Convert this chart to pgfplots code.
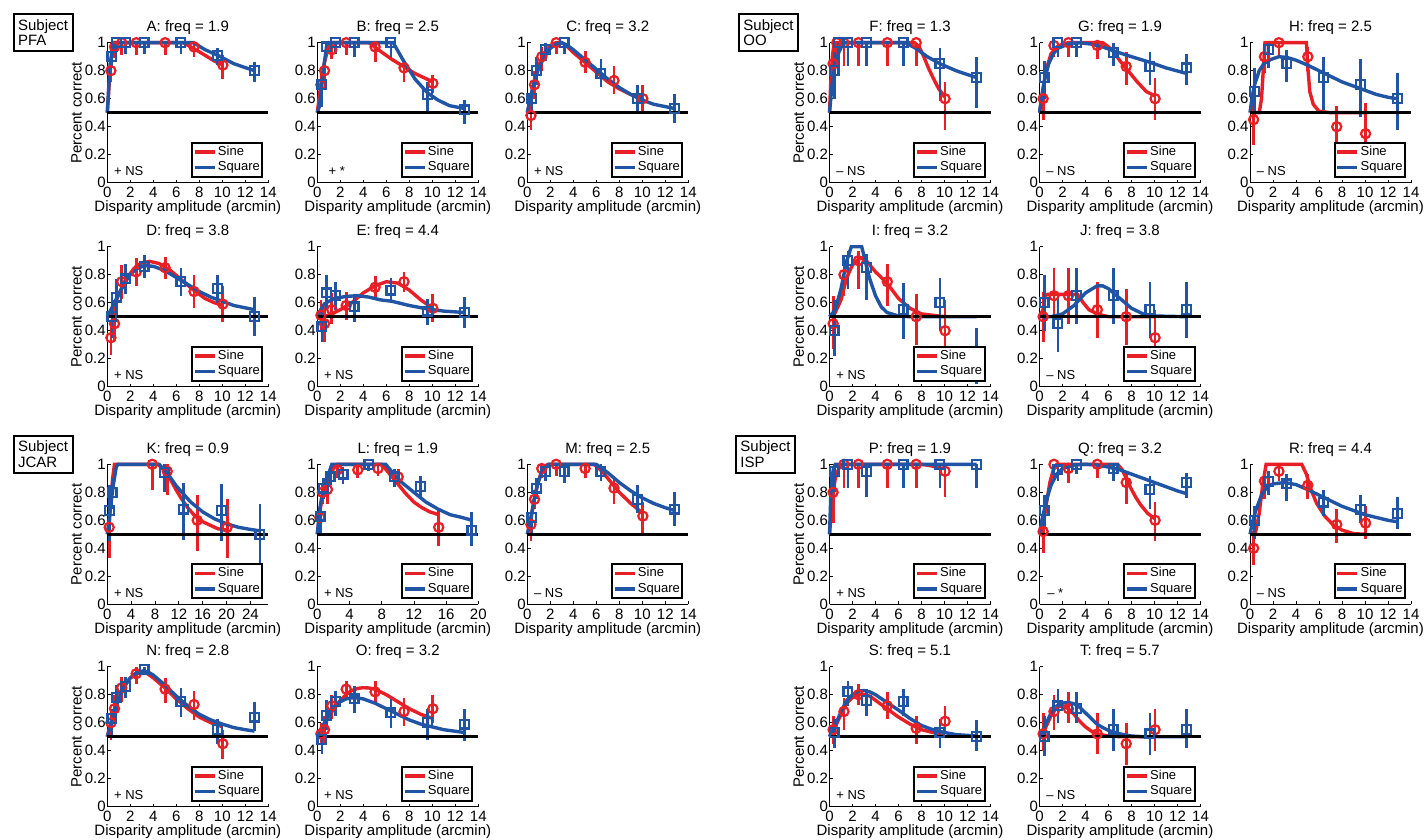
\documentclass[border=0pt]{standalone}
\usepackage{fontspec}
\setmainfont{Liberation Sans}
\usepackage{pgfplots}
\pgfplotsset{compat=1.18}

\definecolor{sinered}{RGB}{232,32,38}
\definecolor{sqblue}{RGB}{32,84,164}

\pgfplotsset{
  panel/.style={
    scale only axis, width=80.5pt, height=70pt, anchor=south west,
    xmin=0, xmax=14, ymin=0, ymax=1, clip=false,
    axis x line*=bottom, axis y line*=left,
    axis line style={-, line width=0.5pt},
    xtick={0,2,...,14}, ytick={0,0.2,0.4,0.6,0.8,1},
    tick align=inside, major tick length=1.6pt,
    tick style={black, line width=0.4pt},
    /pgf/number format/assume math mode=true,
    font=\fontsize{7.5}{9}\selectfont,
    xticklabel style={anchor=base, yshift=-7.4pt},
    yticklabel style={anchor=east, inner sep=0.6pt},
    xlabel={Disparity amplitude (arcmin)},
    xlabel style={at={(axis description cs:0.5,0)}, anchor=base, yshift=-14.6pt},
    ylabel style={at={(axis description cs:0,0.5)}, anchor=base, rotate=0, yshift=12.8pt},
    title style={at={(0.5,1)}, anchor=base, yshift=-0.5pt},
    legend entries={Sine,Square},
    legend image code/.code={\draw[##1] (0pt,0pt) -- (10pt,0pt);},
    legend cell align=left,
    legend style={at={(1,0)}, anchor=south east, xshift=-2.5pt, yshift=2.5pt,
      draw=black, line width=1pt, fill=white,
      font=\fontsize{6.5}{7}\selectfont,
      inner xsep=0.4pt, inner ysep=1.2pt, row sep=0.8pt,
      nodes={inner xsep=0.8pt, inner ysep=0.4pt}},
  },
  fitS/.style={color=sinered, line width=1.7pt},
  fitQ/.style={color=sqblue, line width=1.7pt},
  ptsS/.style={forget plot, only marks, color=sinered, mark=o, mark size=2.3pt,
    mark options={line width=1.1pt},
    error bars/.cd, y dir=both, y explicit, error mark=none,
    error bar style={line width=1.4pt}},
  ptsQ/.style={forget plot, only marks, color=sqblue, mark=square, mark size=2.2pt,
    mark options={line width=1.1pt},
    error bars/.cd, y dir=both, y explicit, error mark=none,
    error bar style={line width=1.4pt}},
  chance/.style={forget plot, black, line width=1.5pt},
}
\newcommand{\chance}[1][14]{\addplot[chance] coordinates {(0,0.5) (#1,0.5)};}
\newcommand{\note}[2][3.2pt]{\node[anchor=west, inner sep=0pt, font=\fontsize{6.5}{7}\selectfont,
  xshift=#1, yshift=5.85pt] at (rel axis cs:0,0) {#2};}
\newcommand{\subj}[3]{\node[draw, line width=1pt, align=left, anchor=north west,
  inner xsep=2.2pt, inner ysep=2.5pt, font=\fontsize{7.5}{7.9}\selectfont] at (#1,#2) {Subject\\#3};}

\begin{document}
\begin{tikzpicture}
\useasboundingbox (0,0) rectangle (712pt,-420pt);

\subj{6.35pt}{-6.65pt}{PFA}
\subj{369pt}{-6.65pt}{OO}
\subj{6.35pt}{-217.5pt}{JCAR}
\subj{367.5pt}{-217.5pt}{ISP}

% ---------------- Subject PFA ----------------
\begin{axis}[panel, at={(53.65pt,-91.35pt)}, title={A: freq = 1.9}, ylabel={Percent correct}]
\addplot[fitS] coordinates {(0,0.5)(0.1,0.62)(0.2,0.75)(0.3,0.85)(0.45,0.95)(0.6,1)(6.6,1)(7.5,0.96)(8.5,0.91)(9.3,0.87)(10.05,0.84)};
\addplot[ptsS] coordinates {(0.314,0.80) += (0,0.07) -= (0,0.08) (0.628,0.97) += (0,0.03) -= (0,0.08) (1.257,1) += (0,0) -= (0,0.09) (2.513,1) += (0,0) -= (0,0.09) (5.027,1) += (0,0) -= (0,0.09) (7.54,0.97) += (0,0.03) -= (0,0.07) (10.05,0.84) += (0,0.07) -= (0,0.1)};
\addplot[fitQ] coordinates {(0,0.5)(0.1,0.65)(0.25,0.85)(0.4,0.93)(0.6,1)(7.5,1)(8.5,0.95)(9.6,0.91)(11,0.85)(12.8,0.8)};
\addplot[ptsQ] coordinates {(0.4,0.9) += (0,0.07) -= (0,0.08) (0.8,1) += (0,0) -= (0,0.07) (1.6,1) += (0,0) -= (0,0.08) (3.2,1) += (0,0) -= (0,0.08) (6.4,1) += (0,0) -= (0,0.08) (9.6,0.91) += (0,0.05) -= (0,0.07) (12.8,0.8) += (0,0.06) -= (0,0.08)};
\chance
\note{+ NS}
\end{axis}

\begin{axis}[panel, at={(158.65pt,-91.35pt)}, title={B: freq = 2.5}]
\addplot[fitS] coordinates {(0,0.5)(0.3,0.7)(0.6,0.85)(0.9,0.95)(1.3,1)(4.5,1)(5.3,0.95)(6.5,0.88)(7.5,0.83)(8.5,0.78)(10.05,0.72)};
\addplot[ptsS] coordinates {(0.314,0.70) += (0,0.1) -= (0,0.1) (0.628,0.80) += (0,0.07) -= (0,0.08) (1.257,0.95) += (0,0.05) -= (0,0.07) (2.513,1) += (0,0) -= (0,0.09) (5.027,0.97) += (0,0.03) -= (0,0.11) (7.54,0.82) += (0,0.05) -= (0,0.1) (10.05,0.71) += (0,0.06) -= (0,0.07)};
\addplot[fitQ] coordinates {(0,0.5)(0.2,0.55)(0.4,0.7)(0.6,0.85)(0.8,0.97)(1,1)(6.6,1)(7.5,0.87)(8.5,0.74)(9.6,0.64)(10.5,0.59)(11.5,0.55)(12.8,0.53)};
\addplot[ptsQ] coordinates {(0.4,0.70) += (0,0.09) -= (0,0.16) (0.8,0.97) += (0,0.03) -= (0,0.05) (1.6,1) += (0,0) -= (0,0.08) (3.2,1) += (0,0) -= (0,0.1) (6.4,1) += (0,0) -= (0,0.1) (9.6,0.63) += (0,0.09) -= (0,0.13) (12.8,0.52) += (0,0.07) -= (0,0.1)};
\chance
\note[5.5pt]{+ *}
\end{axis}

\begin{axis}[panel, at={(263.65pt,-91.35pt)}, title={C: freq = 3.2}]
\addplot[fitS] coordinates {(0,0.5)(0.3,0.6)(0.6,0.72)(1,0.84)(1.5,0.93)(2,0.98)(2.5,1)(3,1)(3.5,0.97)(4,0.93)(5,0.86)(6,0.79)(7,0.72)(8,0.67)(9,0.63)(10.05,0.6)};
\addplot[ptsS] coordinates {(0.314,0.48) += (0,0.1) -= (0,0.1) (0.628,0.7) += (0,0.1) -= (0,0.1) (1.257,0.9) += (0,0.07) -= (0,0.1) (2.513,1) += (0,0) -= (0,0.08) (5.027,0.86) += (0,0.08) -= (0,0.08) (7.54,0.73) += (0,0.1) -= (0,0.1) (10.05,0.6) += (0,0.1) -= (0,0.1)};
\addplot[fitQ] coordinates {(0,0.5)(0.3,0.62)(0.6,0.72)(1,0.82)(1.5,0.9)(2,0.96)(2.5,0.99)(3,1)(3.5,0.98)(4,0.95)(5,0.88)(6,0.81)(7,0.74)(8,0.68)(9,0.63)(10,0.59)(11,0.56)(12.8,0.53)};
\addplot[ptsQ] coordinates {(0.4,0.6) += (0,0.1) -= (0,0.1) (0.8,0.8) += (0,0.1) -= (0,0.1) (1.6,0.95) += (0,0.05) -= (0,0.08) (3.2,1) += (0,0) -= (0,0.08) (6.4,0.78) += (0,0.1) -= (0,0.1) (9.6,0.6) += (0,0.1) -= (0,0.1) (12.8,0.53) += (0,0.1) -= (0,0.1)};
\chance
\note{+ NS}
\end{axis}

\begin{axis}[panel, at={(53.65pt,-193.35pt)}, title={D: freq = 3.8}, ylabel={Percent correct}]
\addplot[fitS] coordinates {(0,0.5)(0.5,0.56)(1,0.66)(1.5,0.75)(2,0.81)(2.5,0.86)(3,0.885)(3.7,0.895)(4.5,0.88)(5.5,0.83)(6.5,0.76)(7.5,0.69)(8.5,0.63)(9.3,0.6)(10.05,0.58)};
\addplot[ptsS] coordinates {(0.314,0.35) += (0,0.12) -= (0,0.12) (0.628,0.45) += (0,0.12) -= (0,0.12) (1.257,0.75) += (0,0.12) -= (0,0.12) (2.513,0.82) += (0,0.1) -= (0,0.1) (5.027,0.85) += (0,0.08) -= (0,0.08) (7.54,0.68) += (0,0.12) -= (0,0.12) (10.05,0.59) += (0,0.13) -= (0,0.13)};
\addplot[fitQ] coordinates {(0,0.5)(0.5,0.58)(1,0.66)(1.5,0.74)(2,0.8)(2.5,0.84)(3.2,0.865)(4,0.86)(5,0.83)(6,0.78)(7,0.73)(8,0.68)(9,0.64)(10,0.61)(11,0.58)(12.8,0.55)};
\addplot[ptsQ] coordinates {(0.4,0.5) += (0,0.15) -= (0,0.15) (0.8,0.64) += (0,0.13) -= (0,0.13) (1.6,0.77) += (0,0.11) -= (0,0.11) (3.2,0.86) += (0,0.08) -= (0,0.08) (6.4,0.75) += (0,0.1) -= (0,0.1) (9.6,0.7) += (0,0.1) -= (0,0.1) (12.8,0.5) += (0,0.14) -= (0,0.14)};
\chance
\note{+ NS}
\end{axis}

\begin{axis}[panel, at={(158.65pt,-193.35pt)}, title={E: freq = 4.4}]
\addplot[fitS] coordinates {(0,0.5)(0.5,0.5)(1,0.51)(1.5,0.53)(2,0.55)(3,0.6)(4,0.67)(5,0.72)(6,0.75)(7,0.74)(8,0.69)(9,0.62)(10.05,0.56)};
\addplot[ptsS] coordinates {(0.314,0.51) += (0,0.11) -= (0,0.11) (0.628,0.45) += (0,0.12) -= (0,0.13) (1.257,0.55) += (0,0.12) -= (0,0.1) (2.513,0.58) += (0,0.1) -= (0,0.1) (5.027,0.71) += (0,0.08) -= (0,0.08) (7.54,0.75) += (0,0.07) -= (0,0.07) (10.05,0.56) += (0,0.1) -= (0,0.1)};
\addplot[fitQ] coordinates {(0,0.5)(0.3,0.55)(0.6,0.59)(1,0.61)(1.5,0.63)(2.5,0.645)(3.5,0.65)(4.5,0.64)(5.5,0.62)(6.5,0.61)(8,0.58)(9.6,0.555)(11,0.54)(12.8,0.53)};
\addplot[ptsQ] coordinates {(0.4,0.43) += (0,0.12) -= (0,0.11) (0.8,0.67) += (0,0.13) -= (0,0.12) (1.6,0.65) += (0,0.1) -= (0,0.1) (3.2,0.57) += (0,0.09) -= (0,0.11) (6.4,0.69) += (0,0.09) -= (0,0.09) (9.6,0.54) += (0,0.09) -= (0,0.1) (12.8,0.53) += (0,0.11) -= (0,0.11)};
\chance
\note{+ NS}
\end{axis}

% ---------------- Subject OO ----------------
\begin{axis}[panel, at={(414.75pt,-91.35pt)}, title={F: freq = 1.3}, ylabel={Percent correct}]
\addplot[fitS] coordinates {(0,0.5)(0.1,0.7)(0.25,0.9)(0.4,1)(7.4,1)(7.8,0.97)(8.2,0.9)(8.6,0.82)(9,0.75)(9.5,0.67)(10.05,0.61)};
\addplot[ptsS] coordinates {(0.314,0.85) += (0,0.1) -= (0,0.13) (0.628,1) += (0,0) -= (0,0.17) (1.257,1) += (0,0) -= (0,0.17) (2.513,1) += (0,0) -= (0,0.17) (5.027,1) += (0,0) -= (0,0.17) (7.54,1) += (0,0) -= (0,0.17) (10.05,0.6) += (0,0.12) -= (0,0.22)};
\addplot[fitQ] coordinates {(0,0.5)(0.2,0.68)(0.4,0.8)(0.8,0.93)(1.2,1)(6.6,1)(7.5,0.96)(8.5,0.9)(9.6,0.85)(11,0.8)(12.8,0.75)};
\addplot[ptsQ] coordinates {(0.4,0.8) += (0,0.13) -= (0,0.2) (0.8,1) += (0,0) -= (0,0.17) (1.6,1) += (0,0) -= (0,0.17) (3.2,1) += (0,0) -= (0,0.17) (6.4,1) += (0,0) -= (0,0.17) (9.6,0.85) += (0,0.11) -= (0,0.27) (12.8,0.75) += (0,0.15) -= (0,0.22)};
\chance
\note{\textendash{} NS}
\end{axis}

\begin{axis}[panel, at={(519.75pt,-91.35pt)}, title={G: freq = 1.9}]
\addplot[fitS] coordinates {(0,0.5)(0.2,0.6)(0.4,0.72)(0.7,0.84)(1,0.92)(1.5,0.97)(2,0.99)(2.5,1)(5.5,1)(6,0.97)(6.5,0.93)(7,0.87)(7.5,0.82)(8.5,0.72)(9.3,0.65)(10.05,0.62)};
\addplot[ptsS] coordinates {(0.314,0.6) += (0,0.1) -= (0,0.15) (1.257,0.98) += (0,0.02) -= (0,0.08) (2.513,1) += (0,0) -= (0,0.1) (5.027,0.98) += (0,0.02) -= (0,0.1) (7.54,0.83) += (0,0.1) -= (0,0.13) (10.05,0.6) += (0,0.15) -= (0,0.15)};
\addplot[fitQ] coordinates {(0,0.5)(0.2,0.62)(0.4,0.72)(0.8,0.85)(1.2,0.92)(1.6,0.96)(2.5,0.99)(3.5,1)(4.5,0.99)(5.5,0.97)(6.5,0.94)(8,0.9)(9.6,0.86)(11,0.82)(12.8,0.78)};
\addplot[ptsQ] coordinates {(0.4,0.75) += (0,0.12) -= (0,0.15) (1.6,1) += (0,0) -= (0,0.1) (3.2,1) += (0,0) -= (0,0.1) (6.4,0.93) += (0,0.07) -= (0,0.1) (9.6,0.83) += (0,0.1) -= (0,0.13) (12.8,0.82) += (0,0.1) -= (0,0.12)};
\chance
\note{\textendash{} NS}
\end{axis}

\begin{axis}[panel, at={(625pt,-91.35pt)}, title={H: freq = 2.5}]
\addplot[fitS] coordinates {(0,0.5)(0.8,0.5)(1,0.6)(1.15,0.8)(1.3,1)(4.9,1)(5.05,0.8)(5.2,0.65)(5.5,0.56)(6,0.51)(7,0.5)(10.05,0.5)};
\addplot[ptsS] coordinates {(0.314,0.45) += (0,0.17) -= (0,0.18) (1.257,0.9) += (0,0.07) -= (0,0.12) (2.513,1) += (0,0) -= (0,0.1) (5.027,0.9) += (0,0.07) -= (0,0.1) (7.54,0.4) += (0,0.15) -= (0,0.17) (10.05,0.35) += (0,0.22) -= (0,0.15)};
\addplot[fitQ] coordinates {(0,0.5)(0.2,0.62)(0.4,0.7)(0.8,0.8)(1.2,0.85)(1.8,0.88)(2.5,0.9)(3.2,0.895)(4,0.875)(5,0.84)(6,0.8)(7,0.76)(8,0.72)(9,0.69)(10,0.66)(11,0.63)(12,0.61)(12.8,0.6)};
\addplot[ptsQ] coordinates {(0.4,0.65) += (0,0.17) -= (0,0.17) (1.6,0.95) += (0,0.05) -= (0,0.13) (3.2,0.85) += (0,0.1) -= (0,0.13) (6.4,0.75) += (0,0.15) -= (0,0.23) (9.6,0.7) += (0,0.18) -= (0,0.23) (12.8,0.6) += (0,0.18) -= (0,0.22)};
\chance
\note{\textendash{} NS}
\end{axis}

\begin{axis}[panel, at={(414.75pt,-193.35pt)}, title={I: freq = 3.2}, ylabel={Percent correct}]
\addplot[fitS] coordinates {(0,0.5)(0.5,0.53)(1,0.62)(1.5,0.78)(2,0.87)(2.5,0.91)(2.8,0.92)(3.2,0.9)(3.6,0.86)(4,0.82)(5,0.74)(6,0.63)(7,0.56)(8,0.52)(9,0.51)(10.05,0.5)};
\addplot[ptsS] coordinates {(0.314,0.45) += (0,0.2) -= (0,0.18) (1.257,0.8) += (0,0.1) -= (0,0.15) (2.513,0.9) += (0,0.07) -= (0,0.2) (5.027,0.75) += (0,0.13) -= (0,0.17) (7.54,0.5) += (0,0.16) -= (0,0.2) (10.05,0.4) += (0,0.22) -= (0,0.2)};
\addplot[fitQ] coordinates {(0,0.5)(0.5,0.55)(1,0.7)(1.5,0.9)(1.9,1)(2.8,1)(3.1,0.9)(3.5,0.77)(4,0.65)(4.5,0.57)(5,0.53)(6,0.505)(7,0.5)(12.8,0.5)};
\addplot[ptsQ] coordinates {(0.4,0.4) += (0,0.22) -= (0,0.18) (1.6,0.9) += (0,0.07) -= (0,0.2) (3.2,0.85) += (0,0.1) -= (0,0.23) (6.4,0.55) += (0,0.19) -= (0,0.21) (9.6,0.6) += (0,0.18) -= (0,0.2) (12.8,0.22) += (0,0.2) -= (0,0.2)};
\chance
\note{+ NS}
\end{axis}

\begin{axis}[panel, at={(519.75pt,-193.35pt)}, title={J: freq = 3.8}]
\addplot[fitS] coordinates {(0,0.5)(0.3,0.55)(0.5,0.65)(0.7,0.66)(3.3,0.66)(3.8,0.6)(4.3,0.55)(5,0.52)(6,0.5)(10.05,0.5)};
\addplot[ptsS] coordinates {(0.314,0.5) += (0,0.18) -= (0,0.18) (1.257,0.65) += (0,0.2) -= (0,0.2) (2.513,0.65) += (0,0.2) -= (0,0.2) (5.027,0.55) += (0,0.2) -= (0,0.2) (7.54,0.5) += (0,0.2) -= (0,0.2) (10.05,0.35) += (0,0.2) -= (0,0.2)};
\addplot[fitQ] coordinates {(0,0.5)(1,0.5)(2,0.52)(3,0.58)(4,0.67)(5,0.72)(5.5,0.72)(6,0.7)(7,0.63)(8,0.56)(9,0.52)(10,0.505)(12.8,0.5)};
\addplot[ptsQ] coordinates {(0.4,0.6) += (0,0.2) -= (0,0.2) (1.6,0.45) += (0,0.2) -= (0,0.2) (3.2,0.65) += (0,0.2) -= (0,0.2) (6.4,0.65) += (0,0.2) -= (0,0.2) (9.6,0.55) += (0,0.2) -= (0,0.2) (12.8,0.55) += (0,0.2) -= (0,0.2)};
\chance
\note{\textendash{} NS}
\end{axis}

% ---------------- Subject JCAR ----------------
\begin{axis}[panel, at={(53.65pt,-302.15pt)}, title={K: freq = 0.9}, ylabel={Percent correct}, xmax=27, xtick={0,4,...,24}]
\addplot[fitS] coordinates {(0,0.5)(0.3,0.55)(0.6,0.75)(0.9,0.9)(1.2,1)(8.5,1)(9.5,0.96)(10.5,0.9)(11.5,0.82)(12.5,0.75)(13.5,0.69)(14.5,0.64)(15.5,0.6)(17,0.57)(18.5,0.54)(20.1,0.53)};
\addplot[ptsS] coordinates {(0.314,0.55) += (0,0.15) -= (0,0.22) (7.54,1) += (0,0) -= (0,0.18) (10.05,0.95) += (0,0.05) -= (0,0.17) (15.08,0.6) += (0,0.18) -= (0,0.22) (20.1,0.55) += (0,0.2) -= (0,0.22)};
\addplot[fitQ] coordinates {(0,0.5)(0.5,0.68)(1,0.85)(1.5,0.98)(1.8,1)(8.7,1)(9.5,0.96)(10.5,0.91)(11.5,0.85)(12.5,0.8)(14,0.73)(16,0.66)(18,0.61)(20,0.575)(22,0.55)(24,0.535)(25.6,0.525)};
\addplot[ptsQ] coordinates {(0.4,0.67) += (0,0.18) -= (0,0.22) (0.8,0.8) += (0,0.1) -= (0,0.12) (9.6,0.94) += (0,0.06) -= (0,0.14) (12.8,0.68) += (0,0.19) -= (0,0.22) (19.2,0.67) += (0,0.19) -= (0,0.22) (25.6,0.5) += (0,0.22) -= (0,0.22)};
\chance[27]
\note{+ NS}
\end{axis}

\begin{axis}[panel, at={(158.65pt,-302.15pt)}, title={L: freq = 1.9}, xmax=20, xtick={0,4,...,20}]
\addplot[fitS] coordinates {(0,0.5)(0.3,0.65)(0.6,0.77)(1,0.86)(1.5,0.93)(2,0.97)(2.5,1)(8,1)(9,0.93)(10,0.86)(11,0.79)(12,0.73)(13,0.69)(14,0.66)(15.08,0.64)};
\addplot[ptsS] coordinates {(0.314,0.62) += (0,0.06) -= (0,0.07) (0.628,0.8) += (0,0.07) -= (0,0.08) (1.257,0.82) += (0,0.08) -= (0,0.1) (2.513,0.96) += (0,0.04) -= (0,0.06) (5.027,0.96) += (0,0.04) -= (0,0.06) (7.54,0.97) += (0,0.03) -= (0,0.05) (10.05,0.91) += (0,0.06) -= (0,0.06) (15.08,0.55) += (0,0.13) -= (0,0.13)};
\addplot[fitQ] coordinates {(0,0.5)(0.3,0.68)(0.6,0.78)(1,0.86)(1.4,0.93)(1.8,1)(8.5,1)(9.5,0.93)(10.5,0.87)(12,0.8)(13.5,0.73)(15,0.68)(16.5,0.64)(18,0.62)(19.2,0.6)};
\addplot[ptsQ] coordinates {(0.4,0.63) += (0,0.09) -= (0,0.13) (0.8,0.83) += (0,0.07) -= (0,0.08) (1.6,0.91) += (0,0.05) -= (0,0.06) (3.2,0.93) += (0,0.05) -= (0,0.07) (6.4,1) += (0,0) -= (0,0.05) (9.6,0.91) += (0,0.06) -= (0,0.07) (12.8,0.84) += (0,0.08) -= (0,0.09) (19.2,0.53) += (0,0.13) -= (0,0.11)};
\chance[20]
\note{+ NS}
\end{axis}

\begin{axis}[panel, at={(263.65pt,-302.15pt)}, title={M: freq = 2.5}]
\addplot[fitS] coordinates {(0,0.5)(0.2,0.56)(0.4,0.65)(0.6,0.75)(0.9,0.86)(1.2,0.94)(1.6,0.99)(1.8,1)(5.8,1)(6.5,0.95)(7.2,0.88)(8,0.8)(9,0.72)(10.05,0.65)};
\addplot[ptsS] coordinates {(0.314,0.57) += (0,0.08) -= (0,0.12) (0.628,0.75) += (0,0.07) -= (0,0.07) (1.257,0.97) += (0,0.03) -= (0,0.07) (2.513,1) += (0,0) -= (0,0.08) (5.027,0.97) += (0,0.03) -= (0,0.07) (7.54,0.83) += (0,0.09) -= (0,0.11) (10.05,0.63) += (0,0.1) -= (0,0.13)};
\addplot[fitQ] coordinates {(0,0.5)(0.2,0.57)(0.4,0.66)(0.6,0.75)(0.9,0.86)(1.2,0.93)(1.6,0.98)(1.9,1)(6,1)(7,0.94)(8,0.87)(9,0.81)(10,0.76)(11,0.72)(12,0.69)(12.8,0.67)};
\addplot[ptsQ] coordinates {(0.4,0.62) += (0,0.06) -= (0,0.12) (0.8,0.83) += (0,0.07) -= (0,0.08) (1.6,0.95) += (0,0.05) -= (0,0.07) (3.2,0.95) += (0,0.05) -= (0,0.08) (6.4,0.95) += (0,0.05) -= (0,0.07) (9.6,0.75) += (0,0.1) -= (0,0.1) (12.8,0.68) += (0,0.12) -= (0,0.12)};
\chance
\note{\textendash{} NS}
\end{axis}

\begin{axis}[panel, at={(53.65pt,-403.35pt)}, title={N: freq = 2.8}, ylabel={Percent correct}]
\addplot[fitS] coordinates {(0,0.5)(0.5,0.66)(1,0.78)(1.5,0.87)(2,0.92)(2.5,0.95)(3,0.96)(3.5,0.95)(4,0.92)(5,0.85)(6,0.77)(7,0.7)(8,0.64)(9,0.6)(10.05,0.57)};
\addplot[ptsS] coordinates {(0.314,0.6) += (0,0.08) -= (0,0.12) (0.628,0.7) += (0,0.1) -= (0,0.1) (1.257,0.85) += (0,0.08) -= (0,0.1) (2.513,0.95) += (0,0.05) -= (0,0.07) (5.027,0.84) += (0,0.08) -= (0,0.1) (7.54,0.73) += (0,0.1) -= (0,0.11) (10.05,0.45) += (0,0.1) -= (0,0.11)};
\addplot[fitQ] coordinates {(0,0.5)(0.5,0.65)(1,0.77)(1.5,0.86)(2,0.92)(2.5,0.955)(3.1,0.97)(3.6,0.96)(4,0.94)(5,0.87)(6,0.79)(7,0.72)(8,0.66)(9,0.62)(10,0.59)(11,0.565)(12,0.55)(12.8,0.54)};
\addplot[ptsQ] coordinates {(0.4,0.63) += (0,0.07) -= (0,0.13) (0.8,0.78) += (0,0.09) -= (0,0.1) (1.6,0.86) += (0,0.07) -= (0,0.08) (3.2,0.98) += (0,0.02) -= (0,0.04) (6.4,0.75) += (0,0.1) -= (0,0.11) (9.6,0.55) += (0,0.08) -= (0,0.1) (12.8,0.64) += (0,0.11) -= (0,0.1)};
\chance
\note{+ NS}
\end{axis}

\begin{axis}[panel, at={(158.65pt,-403.35pt)}, title={O: freq = 3.2}]
\addplot[fitS] coordinates {(0,0.5)(0.5,0.57)(1,0.64)(1.5,0.71)(2,0.76)(2.5,0.8)(3,0.83)(3.5,0.845)(4,0.85)(4.5,0.848)(5,0.84)(6,0.8)(7,0.75)(8,0.7)(9,0.66)(10.05,0.63)};
\addplot[ptsS] coordinates {(0.314,0.52) += (0,0.08) -= (0,0.07) (0.628,0.55) += (0,0.1) -= (0,0.1) (1.257,0.72) += (0,0.08) -= (0,0.09) (2.513,0.84) += (0,0.06) -= (0,0.07) (5.027,0.82) += (0,0.08) -= (0,0.07) (7.54,0.68) += (0,0.1) -= (0,0.1) (10.05,0.7) += (0,0.1) -= (0,0.1)};
\addplot[fitQ] coordinates {(0,0.5)(0.5,0.58)(1,0.66)(1.5,0.72)(2,0.75)(2.5,0.77)(3.2,0.78)(4,0.77)(5,0.74)(6,0.7)(7,0.66)(8,0.62)(9,0.59)(10,0.57)(11,0.55)(12.8,0.53)};
\addplot[ptsQ] coordinates {(0.4,0.48) += (0,0.1) -= (0,0.1) (0.8,0.65) += (0,0.11) -= (0,0.1) (1.6,0.75) += (0,0.08) -= (0,0.1) (3.2,0.77) += (0,0.09) -= (0,0.1) (6.4,0.67) += (0,0.1) -= (0,0.11) (9.6,0.6) += (0,0.1) -= (0,0.12) (12.8,0.59) += (0,0.11) -= (0,0.12)};
\chance
\note{+ NS}
\end{axis}

% ---------------- Subject ISP ----------------
\begin{axis}[panel, at={(414.75pt,-302.15pt)}, title={P: freq = 1.9}, ylabel={Percent correct}]
\addplot[fitS] coordinates {(0,0.5)(0.15,0.65)(0.3,0.78)(0.5,0.9)(0.8,0.97)(1.2,1)(8,1)(8.8,0.99)(9.5,0.975)(10.05,0.97)};
\addplot[ptsS] coordinates {(0.314,0.8) += (0,0.1) -= (0,0.22) (1.257,1) += (0,0) -= (0,0.17) (2.513,1) += (0,0) -= (0,0.17) (5.027,1) += (0,0) -= (0,0.17) (7.54,1) += (0,0) -= (0,0.17) (10.05,0.95) += (0,0.05) -= (0,0.18)};
\addplot[fitQ] coordinates {(0,0.5)(0.1,0.75)(0.2,0.9)(0.35,0.97)(0.5,1)(12.8,1)};
\addplot[ptsQ] coordinates {(0.4,0.95) += (0,0.05) -= (0,0.15) (1.6,1) += (0,0) -= (0,0.17) (3.2,0.95) += (0,0.05) -= (0,0.18) (6.4,1) += (0,0) -= (0,0.17) (9.6,1) += (0,0) -= (0,0.17) (12.8,1) += (0,0) -= (0,0.17)};
\chance
\note{+ NS}
\end{axis}

\begin{axis}[panel, at={(519.75pt,-302.15pt)}, title={Q: freq = 3.2}]
\addplot[fitS] coordinates {(0,0.5)(0.3,0.55)(0.6,0.72)(0.9,0.87)(1.2,0.96)(1.5,1)(6.8,1)(7.2,0.96)(7.6,0.89)(8,0.82)(8.4,0.76)(8.8,0.71)(9.4,0.65)(10.05,0.61)};
\addplot[ptsS] coordinates {(0.314,0.52) += (0,0.08) -= (0,0.15) (1.257,1) += (0,0) -= (0,0.1) (2.513,0.97) += (0,0.03) -= (0,0.1) (5.027,1) += (0,0) -= (0,0.1) (7.54,0.87) += (0,0.06) -= (0,0.15) (10.05,0.6) += (0,0.13) -= (0,0.15)};
\addplot[fitQ] coordinates {(0,0.5)(0.2,0.6)(0.4,0.67)(0.7,0.77)(1,0.85)(1.5,0.93)(2,0.97)(3,0.995)(4,1)(5,0.995)(6,0.98)(7,0.96)(8,0.93)(9,0.9)(10,0.87)(11,0.84)(12,0.81)(12.8,0.79)};
\addplot[ptsQ] coordinates {(0.4,0.67) += (0,0.11) -= (0,0.12) (1.6,0.96) += (0,0.04) -= (0,0.08) (3.2,1) += (0,0) -= (0,0.07) (6.4,0.97) += (0,0.03) -= (0,0.09) (9.6,0.82) += (0,0.1) -= (0,0.14) (12.8,0.87) += (0,0.07) -= (0,0.11)};
\chance
\note[3.7pt]{\textendash{} *}
\end{axis}

\begin{axis}[panel, at={(625pt,-302.15pt)}, title={R: freq = 4.4}]
\addplot[fitS] coordinates {(0,0.5)(0.5,0.52)(0.8,0.65)(1.1,0.85)(1.4,1)(4.5,1)(4.9,0.93)(5.3,0.82)(5.8,0.72)(6.5,0.63)(7.2,0.57)(8,0.53)(9,0.505)(10.05,0.5)};
\addplot[ptsS] coordinates {(0.314,0.4) += (0,0.12) -= (0,0.12) (1.257,0.88) += (0,0.07) -= (0,0.13) (2.513,0.95) += (0,0.05) -= (0,0.07) (5.027,0.85) += (0,0.08) -= (0,0.1) (7.54,0.57) += (0,0.11) -= (0,0.13) (10.05,0.58) += (0,0.12) -= (0,0.11)};
\addplot[fitQ] coordinates {(0,0.5)(0.2,0.58)(0.5,0.67)(1,0.78)(1.5,0.84)(2,0.86)(3,0.87)(4,0.855)(5,0.82)(6,0.78)(7,0.74)(8,0.7)(9,0.67)(10,0.64)(11,0.62)(12,0.6)(12.8,0.59)};
\addplot[ptsQ] coordinates {(0.4,0.6) += (0,0.1) -= (0,0.13) (1.6,0.88) += (0,0.07) -= (0,0.1) (3.2,0.86) += (0,0.07) -= (0,0.12) (6.4,0.73) += (0,0.09) -= (0,0.1) (9.6,0.68) += (0,0.1) -= (0,0.1) (12.8,0.65) += (0,0.12) -= (0,0.11)};
\chance
\note{\textendash{} NS}
\end{axis}

\begin{axis}[panel, at={(414.75pt,-403.35pt)}, title={S: freq = 5.1}, ylabel={Percent correct}]
\addplot[fitS] coordinates {(0,0.5)(0.5,0.57)(1,0.66)(1.5,0.74)(2,0.78)(2.5,0.8)(3,0.8)(3.5,0.79)(4,0.76)(5,0.7)(6,0.64)(7,0.59)(8,0.55)(9,0.53)(10.05,0.515)};
\addplot[ptsS] coordinates {(0.314,0.55) += (0,0.1) -= (0,0.1) (1.257,0.68) += (0,0.1) -= (0,0.13) (2.513,0.8) += (0,0.08) -= (0,0.07) (5.027,0.72) += (0,0.1) -= (0,0.09) (7.54,0.56) += (0,0.09) -= (0,0.11) (10.05,0.61) += (0,0.11) -= (0,0.09)};
\addplot[fitQ] coordinates {(0,0.5)(0.5,0.58)(1,0.68)(1.5,0.76)(2,0.8)(2.5,0.825)(3,0.83)(3.5,0.82)(4,0.8)(5,0.745)(6,0.69)(7,0.63)(8,0.58)(9,0.55)(10,0.53)(11,0.515)(12.8,0.505)};
\addplot[ptsQ] coordinates {(0.4,0.53) += (0,0.1) -= (0,0.11) (1.6,0.82) += (0,0.08) -= (0,0.1) (3.2,0.76) += (0,0.08) -= (0,0.11) (6.4,0.75) += (0,0.09) -= (0,0.1) (9.6,0.53) += (0,0.1) -= (0,0.11) (12.8,0.5) += (0,0.12) -= (0,0.1)};
\chance
\note{+ NS}
\end{axis}

\begin{axis}[panel, at={(519.75pt,-403.35pt)}, title={T: freq = 5.7}]
\addplot[fitS] coordinates {(0,0.5)(0.5,0.56)(1,0.65)(1.5,0.71)(2,0.72)(2.5,0.7)(3,0.66)(3.5,0.61)(4,0.57)(4.5,0.54)(5,0.52)(6,0.505)(7,0.5)(10.05,0.5)};
\addplot[ptsS] coordinates {(0.314,0.52) += (0,0.15) -= (0,0.12) (1.257,0.68) += (0,0.12) -= (0,0.13) (2.513,0.7) += (0,0.12) -= (0,0.1) (5.027,0.52) += (0,0.15) -= (0,0.14) (7.54,0.45) += (0,0.15) -= (0,0.15) (10.05,0.55) += (0,0.15) -= (0,0.15)};
\addplot[fitQ] coordinates {(0,0.5)(0.5,0.58)(1,0.67)(1.5,0.72)(2,0.74)(2.5,0.745)(3,0.735)(3.5,0.71)(4,0.67)(4.5,0.63)(5,0.59)(5.5,0.565)(6,0.545)(7,0.52)(8,0.505)(9,0.5)(12.8,0.5)};
\addplot[ptsQ] coordinates {(0.4,0.5) += (0,0.15) -= (0,0.14) (1.6,0.72) += (0,0.12) -= (0,0.12) (3.2,0.7) += (0,0.12) -= (0,0.1) (6.4,0.55) += (0,0.15) -= (0,0.15) (9.6,0.52) += (0,0.15) -= (0,0.15) (12.8,0.55) += (0,0.15) -= (0,0.13)};
\chance
\note{\textendash{} NS}
\end{axis}

\end{tikzpicture}
\end{document}
